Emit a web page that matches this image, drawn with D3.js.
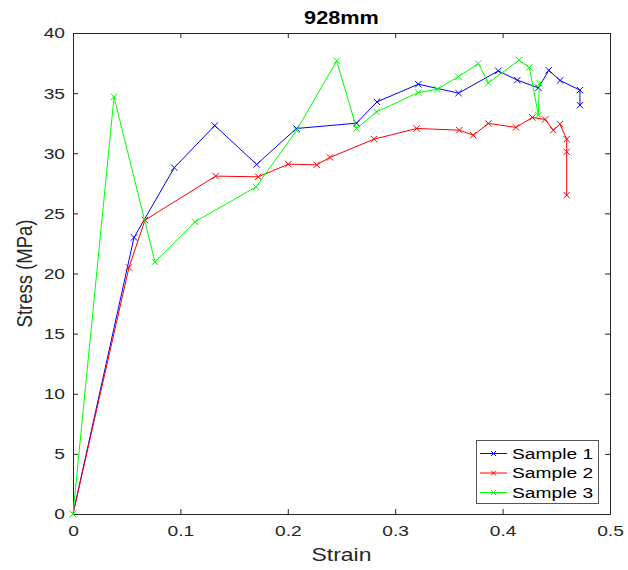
<!DOCTYPE html>
<html><head><meta charset="utf-8">
<script src="https://cdn.jsdelivr.net/npm/d3@7"></script>
<style>body{margin:0;background:#fff}svg{display:block}</style>
</head><body>
<svg id="c" width="628" height="570"></svg>
<script>
const title = "928mm";
const seriesNames = ["Sample 1", "Sample 2", "Sample 3"];
const seriesColors = ["#0000ff", "#ff0000", "#00ff00"];
const xTicks = [0, 0.1, 0.2, 0.3, 0.4, 0.5];
const yTicks = [0, 5, 10, 15, 20, 25, 30, 35, 40];

const strain1 = [0, 0.0568, 0.0943, 0.132, 0.171, 0.208, 0.264, 0.283, 0.3215, 0.359, 0.396, 0.4137, 0.4333, 0.443, 0.4535, 0.472, 0.472];
const stress1 = [0, 23.0, 28.8, 32.3, 29.07, 32.06, 32.5, 34.27, 35.74, 35.0, 36.85, 36.08, 35.44, 36.9, 36.05, 35.25, 34.0];

const strain2 = [0, 0.0521, 0.067, 0.1328, 0.1725, 0.2005, 0.2269, 0.2393, 0.2803, 0.32, 0.3597, 0.3727, 0.3867, 0.4125, 0.4277, 0.4395, 0.4472, 0.4534, 0.4597, 0.4597, 0.4597];
const stress2 = [0, 20.5, 24.44, 28.1, 28.04, 29.09, 29.04, 29.65, 31.17, 32.06, 31.92, 31.5, 32.48, 32.15, 32.98, 32.81, 31.92, 32.42, 31.17, 30.12, 26.52];

const strain3 = [0, 0.0382, 0.0763, 0.1136, 0.1704, 0.2083, 0.2455, 0.2641, 0.2827, 0.3215, 0.3392, 0.3588, 0.3774, 0.3867, 0.4153, 0.4249, 0.4333, 0.4342];
const stress3 = [0, 34.69, 20.97, 24.3, 27.2, 31.92, 37.68, 32.06, 33.44, 35.05, 35.33, 36.37, 37.46, 35.85, 37.74, 37.13, 33.17, 35.8];

const allStrain = [strain1, strain2, strain3];
const allStress = [stress1, stress2, stress3];

const svg = d3.select("#c");
const L = 73, R = 610, T = 33, B = 514;
const x = d3.scaleLinear().domain([0, 0.5]).range([L, R]);
const y = d3.scaleLinear().domain([0, 40]).range([B, T]);
const font = "'Liberation Sans', Arial, Helvetica, sans-serif";
const axisCol = "#262626";
const SX = 1.24; // horizontal text stretch seen in the reference

function stretch(sel) {
  sel.each(function () {
    const t = d3.select(this);
    const ax = +t.attr("x") || 0;
    const ay = +t.attr("y") || 0;
    t.attr("transform", `translate(${ax},${ay}) scale(${SX},1) translate(${-ax},${-ay})`);
  });
}

// axes with inward ticks
const tl = 5;
const gB = svg.append("g").attr("transform", `translate(0,${B})`)
  .call(d3.axisBottom(x).tickValues(xTicks).tickSizeInner(-tl).tickSizeOuter(0).tickPadding(11).tickFormat(d => d3.format("")(d)));
const gT = svg.append("g").attr("transform", `translate(0,${T})`)
  .call(d3.axisTop(x).tickValues(xTicks).tickSizeInner(-tl).tickSizeOuter(0).tickFormat(""));
const gL = svg.append("g").attr("transform", `translate(${L},0)`)
  .call(d3.axisLeft(y).tickValues(yTicks).tickSizeInner(-tl).tickSizeOuter(0).tickPadding(8));
const gR = svg.append("g").attr("transform", `translate(${R},0)`)
  .call(d3.axisRight(y).tickValues(yTicks).tickSizeInner(-tl).tickSizeOuter(0).tickFormat(""));
[gB, gT, gL, gR].forEach(g => {
  g.selectAll("path").attr("stroke", axisCol).attr("stroke-width", 1);
  g.selectAll("line").attr("stroke", axisCol);
  g.selectAll("text").attr("fill", axisCol).attr("font-family", font).attr("font-size", 15.5);
});
stretch(gB.selectAll("text"));
stretch(gL.selectAll("text"));

// series
const line = d3.line().x(d => x(d[0])).y(d => y(d[1]));
const ms = 3.2;
allStrain.forEach((sx, i) => {
  const pts = sx.map((v, j) => [v, allStress[i][j]]);
  const g = svg.append("g");
  g.append("path").attr("d", line(pts)).attr("fill", "none")
    .attr("stroke", seriesColors[i]).attr("stroke-width", 1);
  g.selectAll("path.m").data(pts).enter().append("path").attr("class", "m")
    .attr("d", d => { const cx = x(d[0]), cy = y(d[1]);
      return `M${cx-ms},${cy-ms}L${cx+ms},${cy+ms}M${cx-ms},${cy+ms}L${cx+ms},${cy-ms}`; })
    .attr("stroke", seriesColors[i]).attr("stroke-width", 1).attr("fill", "none");
});

// title & labels
svg.append("text").attr("x", (L + R) / 2).attr("y", 24).attr("text-anchor", "middle")
  .attr("font-family", font).attr("font-weight", "bold").attr("font-size", 17.5).attr("fill", "#000").text(title)
  .call(stretch);
svg.append("text").attr("x", (L + R) / 2).attr("y", 561.5).attr("text-anchor", "middle")
  .attr("font-family", font).attr("font-size", 18.5).attr("fill", axisCol).text("Strain")
  .call(stretch);
svg.append("text").attr("transform", `translate(32,${(T + B) / 2}) scale(${SX},1) rotate(-90)`).attr("text-anchor", "middle")
  .attr("font-family", font).attr("font-size", 18.5).attr("fill", axisCol).text("Stress (MPa)");

// legend
const lg = svg.append("g");
lg.append("rect").attr("x", 476.5).attr("y", 440.5).attr("width", 122).attr("height", 63)
  .attr("fill", "#fff").attr("stroke", "#555").attr("stroke-width", 1);
seriesNames.forEach((n, i) => {
  const ly = 453.5 + i * 19.5;
  lg.append("line").attr("x1", 480).attr("x2", 507).attr("y1", ly).attr("y2", ly)
    .attr("stroke", seriesColors[i]).attr("stroke-width", 1);
  const cx = 493.5, s = 2.5;
  lg.append("path").attr("d", `M${cx-s},${ly-s}L${cx+s},${ly+s}M${cx-s},${ly+s}L${cx+s},${ly-s}`)
    .attr("stroke", seriesColors[i]).attr("stroke-width", 1);
  lg.append("text").attr("x", 512).attr("y", ly).attr("dy", "0.35em")
    .attr("font-family", font).attr("font-size", 15.5).attr("fill", "#000").text(n)
    .call(stretch);
});
</script>
</body></html>
